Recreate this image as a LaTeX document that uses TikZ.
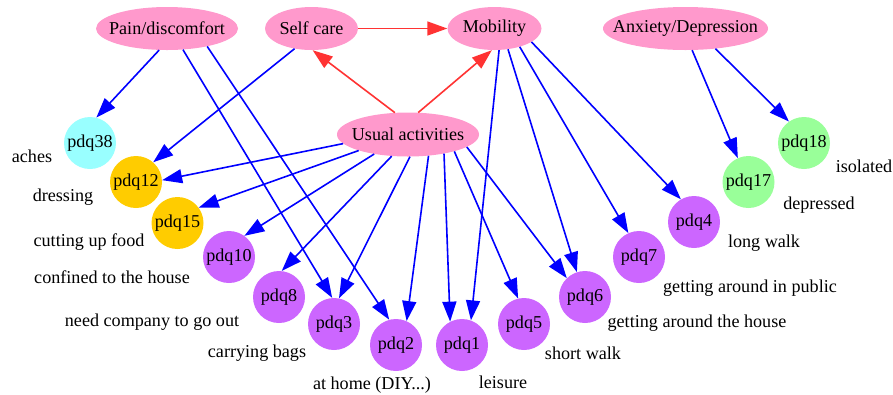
\documentclass[tikz,border=0pt]{standalone}
\usepackage{fontspec}
\setmainfont{Liberation Serif}
\usetikzlibrary{arrows.meta,shapes.geometric}
\definecolor{pinkfill}{RGB}{255,153,204}
\definecolor{cyanfill}{RGB}{153,255,255}
\definecolor{orangefill}{RGB}{255,204,0}
\definecolor{purplefill}{RGB}{204,102,255}
\definecolor{greenfill}{RGB}{153,255,153}
\definecolor{rededge}{RGB}{255,51,51}
\definecolor{blueedge}{RGB}{0,0,255}
\tikzset{
  every node/.style={font=\fontsize{18.2}{20}\selectfont},
  dim/.style={ellipse, fill=pinkfill, inner sep=0pt, minimum height=43bp},
  pdqnode/.style={circle, inner sep=0pt, minimum size=52bp},
  lbl/.style={inner sep=0pt},
  bluearrow/.style={draw=blueedge, line width=1.6bp, -{Triangle[length=20bp,width=14bp]}},
  redarrow/.style={draw=rededge, line width=1.6bp, -{Triangle[length=20bp,width=14bp]}}
}
\begin{document}
\begin{tikzpicture}[x=1bp,y=-1bp]
\useasboundingbox (0,0) rectangle (893,394);
% dimension ellipses (text placed as centred label so it does not grow the ellipse)
\node[dim, minimum width=142bp, label={center:Pain/discomfort}] (pain) at (167,28.5) {};
\node[dim, minimum width=93bp, label={center:Self care}] (selfcare) at (311.5,28.5) {};
\node[dim, minimum width=94bp, label={center:Mobility}] (mobility) at (494.5,28.5) {};
\node[dim, minimum width=165bp, label={center:Anxiety/Depression}] (anxiety) at (685.5,28.5) {};
\node[dim, minimum width=142bp, minimum height=44bp, label={center:Usual activities}] (usual) at (408,134.5) {};
% item circles
\node[pdqnode, fill=cyanfill] (pdq38) at (90,143) {pdq38};
\node[pdqnode, fill=orangefill] (pdq12) at (136,182) {pdq12};
\node[pdqnode, fill=orangefill] (pdq15) at (177.5,223) {pdq15};
\node[pdqnode, fill=purplefill] (pdq10) at (229,257) {pdq10};
\node[pdqnode, fill=purplefill] (pdq8) at (279,297) {pdq8};
\node[pdqnode, fill=purplefill] (pdq3) at (334,324) {pdq3};
\node[pdqnode, fill=purplefill] (pdq2) at (396,345) {pdq2};
\node[pdqnode, fill=purplefill] (pdq1) at (462,345) {pdq1};
\node[pdqnode, fill=purplefill] (pdq5) at (524,324) {pdq5};
\node[pdqnode, fill=purplefill] (pdq6) at (585,297) {pdq6};
\node[pdqnode, fill=purplefill] (pdq7) at (639,257) {pdq7};
\node[pdqnode, fill=purplefill] (pdq4) at (694,222) {pdq4};
\node[pdqnode, fill=greenfill] (pdq17) at (748.5,182) {pdq17};
\node[pdqnode, fill=greenfill] (pdq18) at (804,143) {pdq18};
% labels
\node[lbl] (laches) at (32,156) {aches};
\node[lbl] (ldressing) at (63,197) {dressing};
\node[lbl] (lcutting) at (89,242) {cutting up food};
\node[lbl] (lconfined) at (112,277) {confined to the house};
\node[lbl] (lcompany) at (152,322) {need company to go out};
\node[lbl] (lbags) at (257,353) {carrying bags};
\node[lbl] (lhome) at (372,385) {at home (DIY...)};
\node[lbl] (lleisure) at (503,382) {leisure};
\node[lbl] (lshort) at (583,353) {short walk};
\node[lbl] (lhouse) at (697,323) {getting around the house};
\node[lbl] (lpublic) at (750,288) {getting around in public};
\node[lbl] (llong) at (764,243) {long walk};
\node[lbl] (ldepressed) at (819,205) {depressed};
\node[lbl] (lisolated) at (864,166) {isolated};
% red edges
\draw[redarrow] (selfcare.0) -- (mobility.180);
\draw[redarrow] (usual.121) -- (selfcare.-87);
\draw[redarrow] (usual.65) -- (mobility.-97);
% blue edges
\draw[bluearrow] (pain.-110) -- (pdq38.76);
\draw[bluearrow] (pain.-53) -- (pdq3.94);
\draw[bluearrow] (pain.-24) -- (pdq2.105);
\draw[bluearrow] (selfcare.-130) -- (pdq12.49);
\draw[bluearrow] (usual.-172) -- (pdq12.4);
\draw[bluearrow] (usual.-162) -- (pdq15.36);
\draw[bluearrow] (usual.-150) -- (pdq10.54);
\draw[bluearrow] (usual.-127) -- (pdq8.84);
\draw[bluearrow] (usual.-85) -- (pdq3.79);
\draw[bluearrow] (usual.-46) -- (pdq2.66);
\draw[bluearrow] (usual.-28.5) -- (pdq1.117);
\draw[bluearrow] (usual.-20.7) -- (pdq5.103);
\draw[bluearrow] (usual.-12) -- (pdq6.134);
\draw[bluearrow] (mobility.-78) -- (pdq1.70);
\draw[bluearrow] (mobility.-57) -- (pdq6.108);
\draw[bluearrow] (mobility.-36) -- (pdq7.114);
\draw[bluearrow] (mobility.-20) -- (pdq4.120);
\draw[bluearrow] (anxiety.-73) -- (pdq17.114);
\draw[bluearrow] (anxiety.-34) -- (pdq18.125);
\end{tikzpicture}
\end{document}
